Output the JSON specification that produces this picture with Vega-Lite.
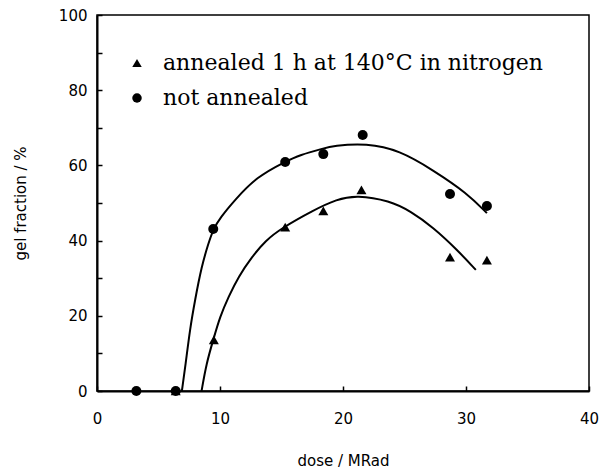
{
  "$schema": "https://vega.github.io/schema/vega-lite/v6.json",
  "width": 492,
  "height": 376,
  "autosize": {"type": "none"},
  "padding": {"left": 97, "top": 15, "right": 11, "bottom": 79},
  "background": "white",
  "config": {
    "view": {"stroke": "black", "strokeWidth": 1.5},
    "axis": {
      "grid": false,
      "domainColor": "black",
      "domainWidth": 2,
      "tickColor": "black",
      "tickWidth": 1.5,
      "tickSize": -5,
      "labelFlush": false,
      "labelFont": "DejaVu Sans",
      "labelFontSize": 15,
      "labelColor": "black",
      "titleFont": "DejaVu Sans",
      "titleFontSize": 15,
      "titleFontWeight": "normal",
      "titleColor": "black"
    },
    "legend": {
      "orient": "none",
      "legendX": 29,
      "legendY": 37,
      "padding": 0,
      "labelFont": "DejaVu Serif",
      "labelFontSize": 22,
      "labelLimit": 0,
      "labelColor": "black",
      "labelOffset": 15,
      "rowPadding": 13,
      "symbolSize": 90,
      "symbolFillColor": "black",
      "symbolStrokeColor": "black"
    }
  },
  "data": {
    "values": [
      {"kind": "point", "series": "not annealed", "dose": 3.2, "gel": 0},
      {"kind": "point", "series": "not annealed", "dose": 6.4, "gel": 0},
      {"kind": "point", "series": "not annealed", "dose": 9.45, "gel": 43.1},
      {"kind": "point", "series": "not annealed", "dose": 15.3, "gel": 60.9},
      {"kind": "point", "series": "not annealed", "dose": 18.4, "gel": 63.0},
      {"kind": "point", "series": "not annealed", "dose": 21.6, "gel": 68.1},
      {"kind": "point", "series": "not annealed", "dose": 28.7, "gel": 52.4},
      {"kind": "point", "series": "not annealed", "dose": 31.7, "gel": 49.2},
      {"kind": "point", "series": "annealed 1 h at 140°C in nitrogen", "dose": 6.4, "gel": 0},
      {"kind": "point", "series": "annealed 1 h at 140°C in nitrogen", "dose": 9.5, "gel": 13.6},
      {"kind": "point", "series": "annealed 1 h at 140°C in nitrogen", "dose": 15.3, "gel": 43.6},
      {"kind": "point", "series": "annealed 1 h at 140°C in nitrogen", "dose": 18.4, "gel": 47.9},
      {"kind": "point", "series": "annealed 1 h at 140°C in nitrogen", "dose": 21.5, "gel": 53.5},
      {"kind": "point", "series": "annealed 1 h at 140°C in nitrogen", "dose": 28.7, "gel": 35.6},
      {"kind": "point", "series": "annealed 1 h at 140°C in nitrogen", "dose": 31.7, "gel": 34.8},
      {"kind": "curve", "series": "not annealed", "dose": 6.9, "gel": 0},
      {"kind": "curve", "series": "not annealed", "dose": 7.2, "gel": 7},
      {"kind": "curve", "series": "not annealed", "dose": 7.56, "gel": 16.5},
      {"kind": "curve", "series": "not annealed", "dose": 7.97, "gel": 24.2},
      {"kind": "curve", "series": "not annealed", "dose": 8.5, "gel": 33.1},
      {"kind": "curve", "series": "not annealed", "dose": 9.05, "gel": 39.2},
      {"kind": "curve", "series": "not annealed", "dose": 9.45, "gel": 43},
      {"kind": "curve", "series": "not annealed", "dose": 10.0, "gel": 46},
      {"kind": "curve", "series": "not annealed", "dose": 11.2, "gel": 50.8},
      {"kind": "curve", "series": "not annealed", "dose": 13.0, "gel": 57},
      {"kind": "curve", "series": "not annealed", "dose": 15.3, "gel": 61},
      {"kind": "curve", "series": "not annealed", "dose": 16.5, "gel": 62.8},
      {"kind": "curve", "series": "not annealed", "dose": 18.4, "gel": 64.5},
      {"kind": "curve", "series": "not annealed", "dose": 19.2, "gel": 65.2},
      {"kind": "curve", "series": "not annealed", "dose": 21.9, "gel": 65.9},
      {"kind": "curve", "series": "not annealed", "dose": 24.6, "gel": 64},
      {"kind": "curve", "series": "not annealed", "dose": 27.3, "gel": 58.8},
      {"kind": "curve", "series": "not annealed", "dose": 30.1, "gel": 52.6},
      {"kind": "curve", "series": "not annealed", "dose": 31.7, "gel": 47.3},
      {"kind": "curve", "series": "annealed 1 h at 140°C in nitrogen", "dose": 8.5, "gel": 0},
      {"kind": "curve", "series": "annealed 1 h at 140°C in nitrogen", "dose": 8.9, "gel": 7.4},
      {"kind": "curve", "series": "annealed 1 h at 140°C in nitrogen", "dose": 9.45, "gel": 13.6},
      {"kind": "curve", "series": "annealed 1 h at 140°C in nitrogen", "dose": 10.0, "gel": 19.8},
      {"kind": "curve", "series": "annealed 1 h at 140°C in nitrogen", "dose": 10.7, "gel": 25.1},
      {"kind": "curve", "series": "annealed 1 h at 140°C in nitrogen", "dose": 11.5, "gel": 30.4},
      {"kind": "curve", "series": "annealed 1 h at 140°C in nitrogen", "dose": 12.6, "gel": 35.7},
      {"kind": "curve", "series": "annealed 1 h at 140°C in nitrogen", "dose": 13.7, "gel": 40.0},
      {"kind": "curve", "series": "annealed 1 h at 140°C in nitrogen", "dose": 15.0, "gel": 43.3},
      {"kind": "curve", "series": "annealed 1 h at 140°C in nitrogen", "dose": 17.6, "gel": 48.1},
      {"kind": "curve", "series": "annealed 1 h at 140°C in nitrogen", "dose": 19.5, "gel": 51.0},
      {"kind": "curve", "series": "annealed 1 h at 140°C in nitrogen", "dose": 21.1, "gel": 52.1},
      {"kind": "curve", "series": "annealed 1 h at 140°C in nitrogen", "dose": 23.8, "gel": 50.6},
      {"kind": "curve", "series": "annealed 1 h at 140°C in nitrogen", "dose": 25.5, "gel": 47.8},
      {"kind": "curve", "series": "annealed 1 h at 140°C in nitrogen", "dose": 27.3, "gel": 43.6},
      {"kind": "curve", "series": "annealed 1 h at 140°C in nitrogen", "dose": 29.3, "gel": 37.5},
      {"kind": "curve", "series": "annealed 1 h at 140°C in nitrogen", "dose": 30.8, "gel": 32.2}
    ]
  },
  "encoding": {
    "x": {
      "field": "dose",
      "type": "quantitative",
      "scale": {"domain": [0, 40], "nice": false, "zero": false},
      "axis": {"values": [0, 10, 20, 30, 40], "title": "dose / MRad", "labelPadding": 25, "titlePadding": 27}
    },
    "y": {
      "field": "gel",
      "type": "quantitative",
      "scale": {"domain": [0, 100], "nice": false},
      "axis": {
        "values": [0, 10, 20, 30, 40, 50, 60, 70, 80, 90, 100],
        "labelExpr": "datum.value % 20 == 0 ? datum.label : ''",
        "title": "gel fraction / %",
        "labelPadding": 15,
        "titlePadding": 30
      }
    }
  },
  "layer": [
    {
      "transform": [{"filter": "datum.kind == 'curve'"}],
      "mark": {"type": "line", "interpolate": "basis", "color": "black", "strokeWidth": 2},
      "encoding": {"detail": {"field": "series", "type": "nominal"}}
    },
    {
      "transform": [{"filter": "datum.kind == 'point'"}],
      "mark": {"type": "point", "filled": true, "color": "black", "opacity": 1, "size": 100},
      "encoding": {
        "shape": {
          "field": "series",
          "type": "nominal",
          "scale": {"domain": ["annealed 1 h at 140°C in nitrogen", "not annealed"], "range": ["triangle-up", "circle"]},
          "legend": {"title": null}
        }
      }
    }
  ]
}
